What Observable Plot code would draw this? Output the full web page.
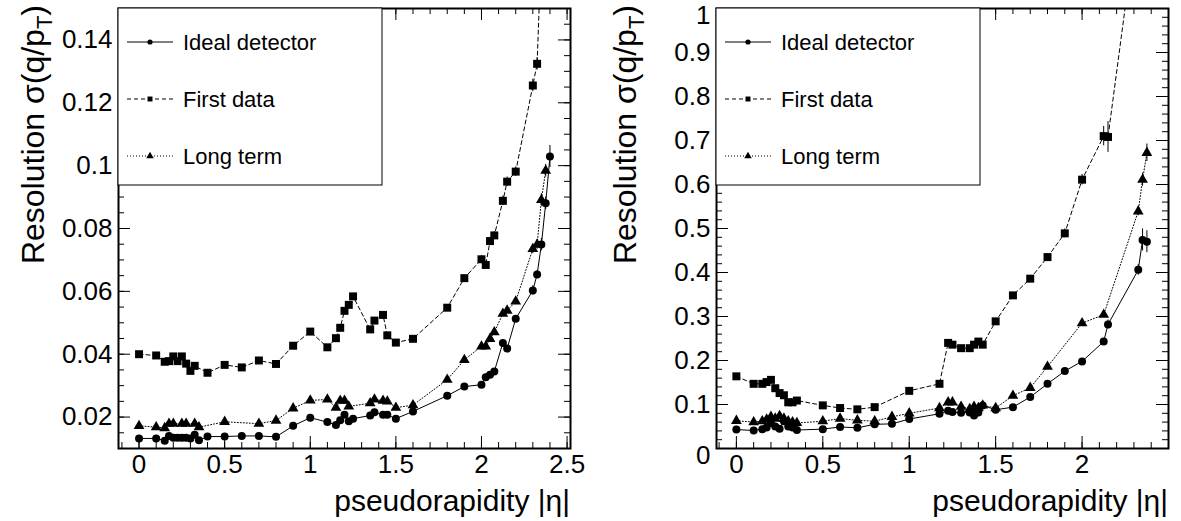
<!DOCTYPE html>
<html>
<head>
<meta charset="utf-8">
<script src="https://cdn.jsdelivr.net/npm/d3@7"></script>
<script src="https://cdn.jsdelivr.net/npm/@observablehq/plot@0.6"></script>
<style>
  body { margin: 0; background: #fff; }
  #wrap { position: relative; width: 1181px; height: 521px; overflow: hidden; background: #fff; }
  .panel { position: absolute; top: 0; }
</style>
</head>
<body>
<div id="wrap"></div>
<script>
// ---------------- data ----------------
const LEGEND = ["Ideal detector", "First data", "Long term"];
const X_TITLE = "pseudorapidity |η|";
const Y_TITLE_MAIN = "Resolution σ(q/p";
const Y_TITLE_SUB = "T";
const Y_TITLE_END = ")";

const X_TICKS_L = [0, 0.5, 1, 1.5, 2, 2.5];
const X_TICKS_R = [0, 0.5, 1, 1.5, 2];
const Y_TICKS_L = [0.02, 0.04, 0.06, 0.08, 0.1, 0.12, 0.14];
const Y_TICKS_R = [0, 0.1, 0.2, 0.3, 0.4, 0.5, 0.6, 0.7, 0.8, 0.9, 1];

// left panel
const L_eta_ideal = [0,0.1,0.15,0.175,0.2,0.225,0.25,0.275,0.3,0.325,0.35,0.4,0.5,0.6,0.7,0.8,0.9,1.0,1.1,1.15,1.175,1.2,1.225,1.25,1.35,1.375,1.425,1.45,1.5,1.6,1.8,1.9,2.0,2.025,2.05,2.075,2.125,2.15,2.2,2.3,2.325,2.35,2.375,2.4];
const L_ideal = [0.0132,0.0132,0.0125,0.0140,0.0134,0.0134,0.0134,0.0134,0.0132,0.0144,0.0126,0.0138,0.0138,0.0140,0.0140,0.0137,0.0172,0.0198,0.0184,0.0175,0.0190,0.0207,0.0187,0.0195,0.0205,0.0215,0.0207,0.0207,0.0195,0.0218,0.0268,0.0297,0.0303,0.0327,0.0335,0.0345,0.0436,0.0418,0.0513,0.0603,0.0654,0.0749,0.0880,0.1029];
const L_ideal_errEta = [2.2, 2.3, 2.325, 2.35, 2.375, 2.4];
const L_ideal_err = [0.0008, 0.0015, 0.0012, 0.002, 0.002, 0.0035];

const L_eta_first = [0,0.1,0.15,0.175,0.2,0.225,0.25,0.275,0.3,0.325,0.4,0.5,0.6,0.7,0.8,0.9,1.0,1.1,1.15,1.175,1.2,1.225,1.25,1.35,1.375,1.425,1.45,1.5,1.6,1.8,1.9,2.0,2.025,2.05,2.075,2.125,2.15,2.2,2.3,2.325,2.35];
const L_first = [0.0400,0.0396,0.0376,0.0378,0.0393,0.0378,0.0393,0.0370,0.0347,0.0363,0.0341,0.0366,0.0358,0.0380,0.0369,0.0427,0.0472,0.0422,0.0451,0.0484,0.0538,0.0557,0.0584,0.0479,0.0507,0.0525,0.0460,0.0437,0.0449,0.0548,0.0642,0.0702,0.0684,0.0760,0.0778,0.0888,0.0949,0.0981,0.1255,0.1324,0.17];
const L_first_errEta = [1.9, 2.0, 2.025, 2.05, 2.075, 2.125, 2.15, 2.2, 2.3, 2.325];
const L_first_err = [0.0008, 0.0012, 0.0012, 0.0012, 0.0012, 0.0015, 0.0015, 0.0015, 0.002, 0.002];

const L_eta_long = [0,0.1,0.15,0.175,0.2,0.25,0.275,0.325,0.35,0.5,0.7,0.8,0.9,1.0,1.1,1.15,1.175,1.2,1.225,1.35,1.375,1.425,1.45,1.5,1.6,1.8,1.9,2.0,2.025,2.05,2.075,2.125,2.15,2.2,2.3,2.325,2.35,2.375];
const L_long = [0.0172,0.0168,0.0165,0.0179,0.0179,0.0179,0.0179,0.0179,0.0168,0.0185,0.0179,0.0189,0.0228,0.0253,0.0256,0.0230,0.0252,0.0252,0.0234,0.0244,0.0256,0.0252,0.0250,0.0230,0.0238,0.0319,0.0382,0.0425,0.0425,0.0449,0.0470,0.0529,0.0539,0.0568,0.0735,0.0749,0.0891,0.0984];
const L_long_errEta = [2.3, 2.325, 2.35, 2.375];
const L_long_err = [0.0015, 0.0015, 0.002, 0.002];

// right panel
const R_eta_ideal = [0,0.1,0.15,0.175,0.2,0.225,0.25,0.275,0.3,0.325,0.35,0.5,0.6,0.7,0.8,0.9,1.0,1.175,1.225,1.25,1.3,1.35,1.375,1.4,1.425,1.5,1.6,1.7,1.8,1.9,2.0,2.125,2.15,2.325,2.35,2.375];
const R_ideal = [0.043,0.041,0.044,0.048,0.058,0.050,0.045,0.062,0.050,0.048,0.042,0.044,0.049,0.047,0.055,0.056,0.067,0.079,0.086,0.083,0.081,0.082,0.075,0.082,0.098,0.088,0.094,0.117,0.147,0.176,0.198,0.243,0.282,0.406,0.474,0.470];
const R_ideal_errEta = [2.15, 2.325, 2.35, 2.375];
const R_ideal_err = [0.01, 0.012, 0.025, 0.025];

const R_eta_first = [0,0.1,0.15,0.175,0.2,0.225,0.25,0.275,0.3,0.325,0.35,0.5,0.6,0.7,0.8,1.0,1.175,1.225,1.25,1.3,1.35,1.375,1.4,1.425,1.5,1.6,1.7,1.8,1.9,2.0,2.125,2.15,2.35];
const R_first = [0.164,0.147,0.147,0.151,0.156,0.137,0.126,0.121,0.105,0.105,0.109,0.098,0.092,0.089,0.094,0.131,0.147,0.240,0.236,0.228,0.228,0.236,0.243,0.236,0.289,0.348,0.386,0.435,0.489,0.611,0.710,0.708,1.3];
const R_first_errEta = [1.7, 1.8, 1.9, 2.0, 2.125, 2.15];
const R_first_err = [0.006, 0.008, 0.01, 0.012, 0.022, 0.035];

const R_eta_long = [0,0.1,0.15,0.175,0.2,0.225,0.25,0.275,0.3,0.325,0.35,0.5,0.6,0.7,0.8,0.9,1.0,1.175,1.225,1.25,1.3,1.35,1.375,1.4,1.425,1.5,1.6,1.7,1.8,2.0,2.125,2.325,2.35,2.375];
const R_long = [0.063,0.060,0.062,0.066,0.072,0.068,0.074,0.068,0.062,0.060,0.058,0.062,0.068,0.064,0.062,0.072,0.080,0.092,0.105,0.105,0.095,0.090,0.095,0.092,0.098,0.092,0.120,0.138,0.186,0.285,0.304,0.539,0.611,0.672];
const R_long_errEta = [2.325, 2.35, 2.375];
const R_long_err = [0.01, 0.015, 0.02];

// ---------------- helpers ----------------
function rows(eta, val, errEta, err) {
  return eta.map((x, i) => {
    const j = errEta.indexOf(x);
    return {x, y: val[i], e: j >= 0 ? err[j] : 0};
  });
}

const FONT = "'Liberation Sans', Arial, Helvetica, sans-serif";
const TICK_FS = 26;
const STYLES = [
  {symbol: "circle", r: 4.0, dash: null, lr: 2.6},
  {symbol: "square", r: 4.5, dash: "4,3", lr: 2.8},
  {symbol: "triangle", r: 4.0, dash: "1,2", lr: 2.8}
];

function panel(cfg) {
  const H = 521, mT = 8, mB = 73;
  const fh = H - mT - mB;
  const fw = cfg.width - cfg.mL - cfg.mR;
  const inX = v => v >= cfg.xDomain[0] - 1e-9 && v <= cfg.xDomain[1] + 1e-9;
  const inY = v => v >= cfg.yDomain[0] - 1e-9 && v <= cfg.yDomain[1] + 1e-9;
  const xMinor = cfg.xMinor.filter(inX), yMinor = cfg.yMinor.filter(inY);
  const marks = [];
  // inward ticks on all four sides
  const tX = (v, len) => [
    Plot.tickX(v, {x: d => d, insetTop: fh - len, stroke: "black", strokeWidth: 1}),
    Plot.tickX(v, {x: d => d, insetBottom: fh - len, stroke: "black", strokeWidth: 1})
  ];
  const tY = (v, len) => [
    Plot.tickY(v, {y: d => d, insetRight: fw - len, stroke: "black", strokeWidth: 1}),
    Plot.tickY(v, {y: d => d, insetLeft: fw - len, stroke: "black", strokeWidth: 1})
  ];
  marks.push(...tX(xMinor, 6), ...tX(cfg.xTicks, 12), ...tY(yMinor, 6), ...tY(cfg.yTicks, 12));
  // series
  cfg.series.forEach((s, k) => {
    const st = STYLES[k];
    marks.push(Plot.line(s, {x: "x", y: "y", stroke: "black", strokeWidth: 1, strokeDasharray: st.dash, clip: true}));
    marks.push(Plot.ruleX(s.filter(d => d.e > 0), {x: "x", y1: d => d.y - d.e, y2: d => d.y + d.e, stroke: "black", strokeWidth: 1, clip: true}));
    marks.push(Plot.dot(s, {x: "x", y: "y", symbol: st.symbol, r: st.r, fill: "black", stroke: "none", clip: true}));
  });
  marks.push(Plot.frame({stroke: "black", strokeWidth: 2}));
  marks.push(Plot.axisX(cfg.xTicks, {tickSize: 0, tickPadding: 6, fontSize: TICK_FS, label: null, tickFormat: d => String(d)}));
  const yMid = cfg.yTicks.filter(v => !cfg.yEdge.includes(v));
  const yEdge = cfg.yTicks.filter(v => cfg.yEdge.includes(v));
  marks.push(Plot.axisY(yMid, {tickSize: 0, tickPadding: 6, fontSize: TICK_FS, label: null, tickFormat: d => String(d)}));
  if (yEdge.length) marks.push(Plot.axisY(yEdge, {tickSize: 0, tickPadding: 6, fontSize: TICK_FS, label: null, dy: 7, tickFormat: d => String(d)}));

  const svgNode = Plot.plot({
    width: cfg.width, height: H,
    marginTop: mT, marginBottom: mB, marginLeft: cfg.mL, marginRight: cfg.mR,
    x: {domain: cfg.xDomain, label: null},
    y: {domain: cfg.yDomain, label: null},
    style: {fontFamily: FONT, fontSize: TICK_FS + "px", background: "white", overflow: "visible", color: "black"},
    marks
  });
  const svg = d3.select(svgNode);
  // y title (rotated, aligned to top)
  const yt = svg.append("text")
    .attr("transform", `translate(${cfg.yTitleX},${mT - 3}) rotate(-90)`)
    .attr("text-anchor", "end")
    .attr("font-family", FONT).attr("font-size", 32).attr("fill", "black");
  yt.append("tspan").text(Y_TITLE_MAIN);
  yt.append("tspan").attr("font-size", 22).attr("dy", 8).text(Y_TITLE_SUB);
  yt.append("tspan").attr("dy", -8).text(Y_TITLE_END);
  // x title (aligned to right)
  svg.append("text")
    .attr("x", cfg.width - cfg.mR).attr("y", 511)
    .attr("text-anchor", "end")
    .attr("font-family", FONT).attr("font-size", 30).attr("fill", "black")
    .text(X_TITLE);
  // legend
  const lg = svg.append("g").attr("text-anchor", "start");
  lg.append("rect").attr("x", cfg.mL).attr("y", mT).attr("width", cfg.legendW).attr("height", 177)
    .attr("fill", "white").attr("stroke", "black").attr("stroke-width", 1);
  const rowY = [42, 99, 156];
  const symMap = {circle: d3.symbolCircle, square: d3.symbolSquare, triangle: d3.symbolTriangle};
  LEGEND.forEach((name, k) => {
    const st = STYLES[k];
    const y = rowY[k];
    const ln = lg.append("line").attr("x1", cfg.mL + 9).attr("x2", cfg.mL + 55).attr("y1", y).attr("y2", y)
      .attr("stroke", "black").attr("stroke-width", 1);
    if (st.dash) ln.attr("stroke-dasharray", st.dash);
    lg.append("path").attr("d", d3.symbol(symMap[st.symbol], Math.PI * st.lr * st.lr)())
      .attr("transform", `translate(${cfg.mL + 32},${y})`).attr("fill", "black");
    lg.append("text").attr("x", cfg.mL + 65).attr("y", y).attr("dy", "0.36em")
      .attr("text-anchor", "start")
      .attr("font-family", FONT).attr("font-size", 22).attr("fill", "black").text(name);
  });
  svgNode.classList.add("panel");
  svgNode.style.left = cfg.left + "px";
  return svgNode;
}

const wrap = document.getElementById("wrap");
wrap.appendChild(panel({
  left: 0, width: 590, mL: 118, mR: 20,
  xDomain: [-0.12, 2.52], yDomain: [0.01, 0.15],
  xTicks: X_TICKS_L, yTicks: Y_TICKS_L, yEdge: [],
  xMinor: d3.range(-10, 26).map(i => i / 10),
  yMinor: d3.range(2, 31).map(i => i / 200),
  yTitleX: 44, legendW: 264,
  series: [
    rows(L_eta_ideal, L_ideal, L_ideal_errEta, L_ideal_err),
    rows(L_eta_first, L_first, L_first_errEta, L_first_err),
    rows(L_eta_long, L_long, L_long_errEta, L_long_err)
  ]
}));
wrap.appendChild(panel({
  left: 590, width: 591, mL: 126, mR: 13,
  xDomain: [-0.115, 2.5], yDomain: [0, 1],
  xTicks: X_TICKS_R, yTicks: Y_TICKS_R, yEdge: [0, 1],
  xMinor: d3.range(-1, 26).map(i => i / 10),
  yMinor: d3.range(0, 51).map(i => i / 50),
  yTitleX: 46, legendW: 264,
  series: [
    rows(R_eta_ideal, R_ideal, R_ideal_errEta, R_ideal_err),
    rows(R_eta_first, R_first, R_first_errEta, R_first_err),
    rows(R_eta_long, R_long, R_long_errEta, R_long_err)
  ]
}));
</script>
</body>
</html>
